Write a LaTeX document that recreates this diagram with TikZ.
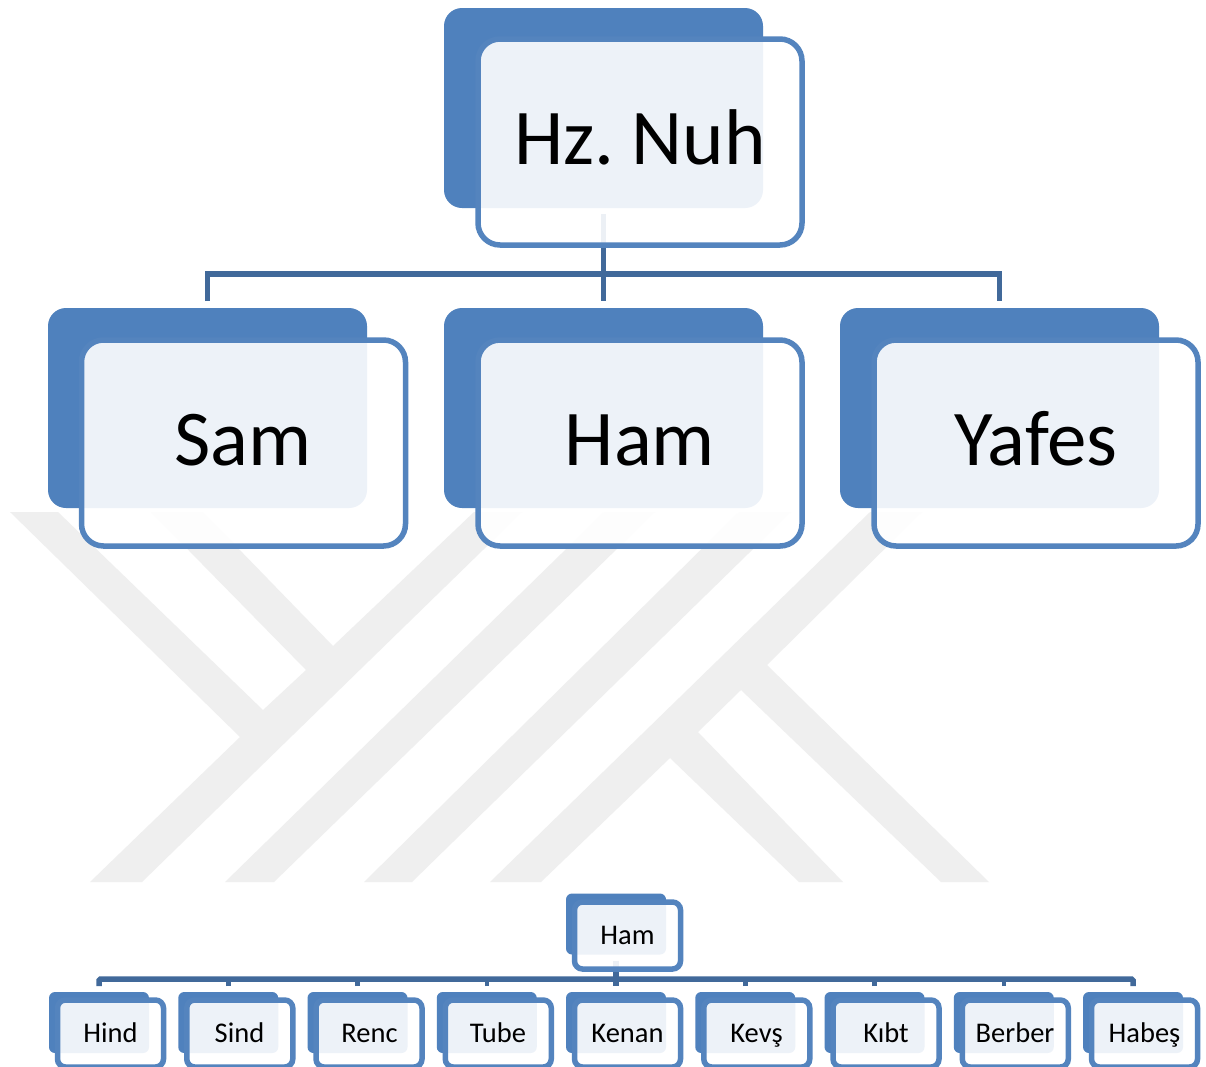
\documentclass[tikz,border=0pt]{standalone}
\usepackage{fontspec}
\setmainfont{Carlito}
\usetikzlibrary{calc}
\definecolor{backblue}{HTML}{4F81BD}
\definecolor{lineblue}{HTML}{5484BE}
\definecolor{connblue}{HTML}{41699A}
\definecolor{wm}{HTML}{EFEFEF}
\tikzset{
  x=1pt,y=-1pt,
  wmark/.style={fill=wm,draw=none},
  conn/.style={draw=connblue,line width=5.5pt},
  bigback/.style={fill=backblue,draw=none,rounded corners=18pt,minimum width=319pt,minimum height=200pt,inner sep=0pt,outer sep=0pt},
  bigfront/.style={fill=white,fill opacity=0.9,draw=lineblue,line width=5.5pt,draw opacity=1,rounded corners=22pt,minimum width=324pt,minimum height=206pt,inner sep=0pt,outer sep=0pt},
  bigtext/.style={font=\fontsize{79}{90}\selectfont,text=black,anchor=base,inner sep=0pt},
  smallback/.style={fill=backblue,draw=none,rounded corners=6pt,minimum width=100pt,minimum height=61pt,inner sep=0pt,outer sep=0pt},
  smallfront/.style={fill=white,fill opacity=0.9,draw=lineblue,line width=5.5pt,draw opacity=1,rounded corners=8pt,minimum width=106pt,minimum height=67pt,inner sep=0pt,outer sep=0pt},
  smalltext/.style={font=\fontsize{28.5}{32}\selectfont,text=black,anchor=base,inner sep=0pt},
}
\begin{document}
\begin{tikzpicture}
\useasboundingbox (0,0) rectangle (1206,1066);
\clip (0,0) rectangle (1206,1066);
\fill[white] (0,0) rectangle (1206,1066);
% watermark
\fill[wmark] (10,512) -- (58,512) -- (263,710) -- (306,670) -- (151,512) -- (203,512) -- (333,646) -- (474,512) -- (522,512) -- (142,882) -- (90,882) -- (240,737) -- cycle;
\fill[wmark] (225,882) -- (274,882) -- (655,512) -- (604,512) -- cycle;
\fill[wmark] (364,882) -- (412,882) -- (791,512) -- (739,512) -- cycle;
\fill[wmark] (490,882) -- (541,882) -- (670,758) -- (799,882) -- (843,882) -- (698,732) -- (741,690) -- (941,882) -- (989,882) -- (767,665) -- (922,512) -- (870,512) -- cycle;

% large tree: back boxes
\node[bigback] (b0) at (603.5,108) {};
\node[bigback] (b1) at (207.5,408) {};
\node[bigback] (b2) at (603.5,408) {};
\node[bigback] (b3) at (999.5,408) {};
% small tree: back boxes
\node[smallback] (s0) at (616,924) {};
\foreach \i in {0,...,8}{
  \pgfmathsetmacro{\cx}{99+129.25*\i}
  \node[smallback] (c\i) at (\cx,1022.5) {};
}
% connectors
\draw[conn] ($(b0.south)+(0,6)$) -- ($(b2.north)+(0,-7)$);
\draw[conn] ($(b1.north)+(0,-7)$) -- ++(0,-27) -| ($(b3.north)+(0,-7)$);
\draw[conn] ($(s0.south)+(0,6)$) -- ($(c4.north)+(0,-6)$);
\draw[conn,rounded corners=1.5pt] ($(c0.north)+(0,-6)$) -- ++(0,-7) -| ($(c8.north)+(0,-6)$);
\foreach \i in {1,2,3,5,6,7}{
  \draw[conn,line width=4.5pt] ($(c\i.north)+(0,-6)$) -- ++(0,-7);
}
% translucent front boxes
\node[bigfront] (f0) at (640,142) {};
\node[bigfront] (f1) at (243.5,443) {};
\node[bigfront] (f2) at (640,443) {};
\node[bigfront] (f3) at (1036,443) {};
\node[smallfront] (g0) at (627.5,935.5) {};
\foreach \i in {0,...,8}{
  \pgfmathsetmacro{\gx}{110.5+129.25*\i}
  \node[smallfront] (g\i x) at (\gx,1033.5) {};
}
% labels
\node[bigtext] (t0) at (640,164) {\spaceskip=11pt Hz. Nuh};
\node[bigtext] (t1) at (243,465) {Sam};
\node[bigtext] (t2) at (640,465) {Ham};
\node[bigtext] (t3) at (1036,465) {Yafes};
\node[smalltext] (u0) at (627.5,944) {Ham};
\node[smalltext] (v0) at (110.5,1042) {Hind};
\node[smalltext] (v1) at (239.5,1042) {Sind};
\node[smalltext] (v2) at (369.5,1042) {Renc};
\node[smalltext] (v3) at (498,1042) {Tube};
\node[smalltext] (v4) at (627.5,1042) {Kenan};
\node[smalltext] (v5) at (756.5,1042) {Kevş};
\node[smalltext] (v6) at (886,1042) {Kıbt};
\node[smalltext] (v7) at (1015,1042) {Berber};
\node[smalltext] (v8) at (1144.5,1042) {Habeş};
\end{tikzpicture}
\end{document}
